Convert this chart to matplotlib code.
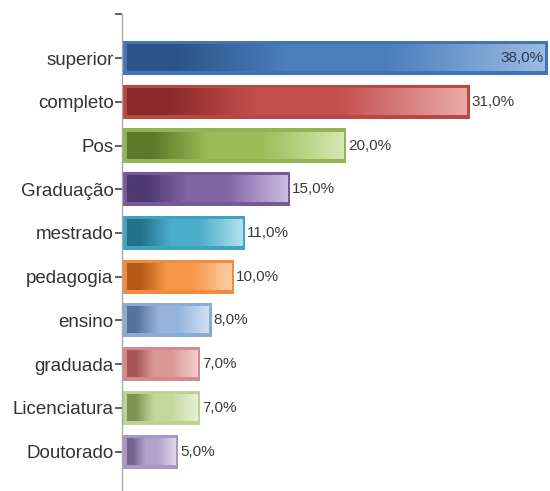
import matplotlib
matplotlib.use("Agg")
import matplotlib.pyplot as plt
import numpy as np
from matplotlib.colors import to_rgb

categories = ["superior", "completo", "Pos", "Graduação", "mestrado",
              "pedagogia", "ensino", "graduada", "Licenciatura", "Doutorado"]
values = [38.0, 31.0, 20.0, 15.0, 11.0, 10.0, 8.0, 7.0, 7.0, 5.0]
value_labels = ["38,0%", "31,0%", "20,0%", "15,0%", "11,0%",
                "10,0%", "8,0%", "7,0%", "7,0%", "5,0%"]

# (border, dark, base, light)
palette = [
    ("#4275b5", "#2c5488", "#4a7ebd", "#9cbbe2"),
    ("#b94744", "#8a2a28", "#c34f4c", "#eaaaa8"),
    ("#93b452", "#5c7a2a", "#9bbd58", "#d6e7b2"),
    ("#77599a", "#4d3870", "#8265a5", "#cbbbe3"),
    ("#3ea3bf", "#23728a", "#4aaecb", "#b3e1ee"),
    ("#f08c3c", "#b35a16", "#f7974a", "#fdcfa6"),
    ("#8aabd3", "#55739f", "#96b4da", "#d2e0f3"),
    ("#d38a88", "#a55553", "#d99896", "#f3cecd"),
    ("#bcd293", "#7d934f", "#c3d89c", "#e6f0d2"),
    ("#a996c2", "#75648f", "#b2a2cb", "#e0d8ee"),
]

plt.rcParams["font.family"] = ["Liberation Sans", "DejaVu Sans"]

fig = plt.figure(figsize=(5.5, 4.91), dpi=100)
ax = fig.add_axes([122 / 550, 0.0, 428 / 550, 1 - 14.3 / 491])

positions = np.arange(1, len(categories) + 1)
bar_h = 0.78
xmax = 38.0 * 428 / 426
ax.set_xlim(0, xmax)
ax.set_ylim(10.9, 0)

# px -> data conversions
px_x = xmax / 428.0
px_y = 10.9 / (491 - 14.3)

def gradient(dark, base, light, n=256):
    t = np.linspace(0, 1, n)
    d, b, l = map(np.array, (to_rgb(dark), to_rgb(base), to_rgb(light)))
    out = np.zeros((n, 3))
    for i, ti in enumerate(t):
        if ti < 0.12:
            out[i] = d
        elif ti < 0.38:
            f = (ti - 0.12) / 0.26
            out[i] = d * (1 - f) + b * f
        elif ti < 0.62:
            out[i] = b
        else:
            f = (ti - 0.62) / 0.38
            out[i] = b * (1 - f) + l * f
    return out[None, :, :]

for pos, v, (border, dark, base, light) in zip(positions, values, palette):
    ax.barh(pos, v, height=bar_h, color=border, edgecolor="none", zorder=2)
    x0 = 5 * px_x
    x1 = v - 3 * px_x
    y0 = pos - bar_h / 2 + 4 * px_y
    y1 = pos + bar_h / 2 - 4 * px_y
    ax.imshow(gradient(dark, base, light), extent=[x0, x1, y1, y0],
              aspect="auto", interpolation="bilinear", zorder=3)

for pos, v, lab in zip(positions, values, value_labels):
    if v >= 35:
        ax.text(v - 4 * px_x, pos, lab, ha="right", va="center",
                fontsize=11, color="#2b3a55", zorder=4)
    else:
        ax.text(v + 2 * px_x, pos, lab, ha="left", va="center",
                fontsize=11, color="#3a3a3a", zorder=4)

ax.set_yticks([0] + list(positions))
ax.set_yticklabels([""] + categories, fontsize=13.5, color="#333333")
ax.tick_params(axis="y", length=5, width=1.2, color="#444444", pad=1)
ax.set_xticks([])
for s in ["top", "right", "bottom"]:
    ax.spines[s].set_visible(False)
ax.spines["left"].set_color("#aaaaaa")
ax.spines["left"].set_linewidth(1)
ax.set_facecolor("none")

fig.savefig("out.png", dpi=100, facecolor="white")
